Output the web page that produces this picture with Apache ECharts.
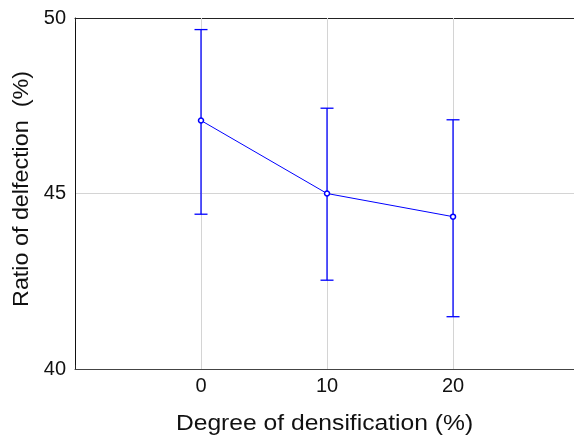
<!DOCTYPE html>
<html><head><meta charset="utf-8">
<script src="https://cdn.jsdelivr.net/npm/echarts@6/dist/echarts.min.js"></script>
<style>html,body{margin:0;padding:0;background:#fff;overflow:hidden}#c{width:574px;height:441px}</style>
</head><body><div id="c"></div>
<script>
const densification = [0, 10, 20];
const meanRatio = [47.08, 45.0, 44.34];
const upperRatio = [49.67, 47.43, 47.10];
const lowerRatio = [44.41, 42.53, 41.49];
const yTicks = [40, 45, 50];
const xTitle = 'Degree of densification (%)';
const yTitle = 'Ratio of delfection  (%)';

const chart = echarts.init(document.getElementById('c'));
const font = '"Liberation Sans", Arial, sans-serif';
const lineData = densification.map((x, i) => [x, meanRatio[i]]);
const errData = densification.map((x, i) => [x, lowerRatio[i], upperRatio[i]]);
const gridGray = '#d4d4d4';

chart.setOption({
  animation: false,
  grid: { left: 75, right: 0, top: 18, bottom: 72, outerBoundsMode: 'none', containLabel: false, show: false },
  xAxis: [{
    type: 'value', min: -10, max: 29.6, interval: 10,
    axisLine: { show: true, onZero: false, lineStyle: { color: '#444', width: 1 } },
    axisTick: { show: true, inside: true, length: 4, lineStyle: { color: '#222' } },
    axisLabel: { fontFamily: font, fontSize: 20, color: '#111', margin: 7,
      formatter: v => densification.includes(v) ? String(v) : '' },
    splitLine: { show: false }
  }, {
    type: 'value', position: 'top', min: -10, max: 29.6, interval: 10,
    axisLine: { show: true, onZero: false, lineStyle: { color: '#222' } },
    axisTick: { show: true, inside: true, length: 4, lineStyle: { color: '#222' } },
    axisLabel: { show: false }, splitLine: { show: false }
  }],
  yAxis: {
    type: 'value', min: 40, max: 50, interval: 5,
    axisLine: { show: true, onZero: false, lineStyle: { color: '#111' } },
    axisTick: { show: false },
    axisLabel: { fontFamily: font, fontSize: 20, color: '#111', margin: 9,
      formatter: v => yTicks.includes(v) ? String(v) : '' },
    splitLine: { show: true, lineStyle: { color: gridGray, width: 1 } }
  },
  graphic: [{
    type: 'text', x: 324.5, y: 424, scaleX: 1.12,
    style: { text: xTitle, fontFamily: font, fontSize: 22, fill: '#111', textAlign: 'center', textVerticalAlign: 'middle' }
  }, {
    type: 'text', x: 22, y: 189, rotation: Math.PI / 2, scaleX: 1.06,
    style: { text: yTitle, fontFamily: font, fontSize: 22, fill: '#111', textAlign: 'center', textVerticalAlign: 'middle' }
  }],
  series: [{
    type: 'custom',
    renderItem: (params, api) => {
      const x = api.value(0);
      const lo = api.coord([x, api.value(1)]);
      const hi = api.coord([x, api.value(2)]);
      const w = 6.5;
      const st = { stroke: '#0000ff', lineWidth: 1.3 };
      return { type: 'group', children: [
        { type: 'line', shape: { x1: lo[0], y1: lo[1], x2: hi[0], y2: hi[1] }, style: st },
        { type: 'line', shape: { x1: lo[0] - w, y1: lo[1], x2: lo[0] + w, y2: lo[1] }, style: st },
        { type: 'line', shape: { x1: hi[0] - w, y1: hi[1], x2: hi[0] + w, y2: hi[1] }, style: st }
      ]};
    },
    encode: { x: 0, y: [1, 2] },
    data: errData, z: 3
  }, {
    type: 'line', data: lineData,
    symbol: 'circle', symbolSize: 5,
    itemStyle: { color: '#fff', borderColor: '#0000ff', borderWidth: 1.5 },
    lineStyle: { color: '#0000ff', width: 1 }, z: 4,
    markLine: {
      silent: true, symbol: 'none', label: { show: false }, z: 1,
      lineStyle: { color: gridGray, width: 1, type: 'solid' },
      data: densification.map(v => ({ xAxis: v }))
    }
  }]
});
</script></body></html>
